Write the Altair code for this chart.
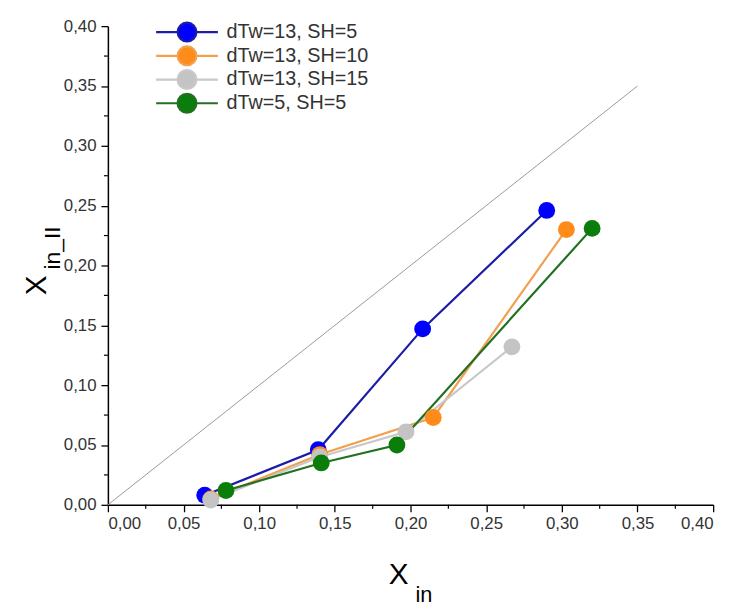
import altair as alt
import pandas as pd

series_names = ["dTw=13, SH=5", "dTw=13, SH=10", "dTw=13, SH=15", "dTw=5, SH=5"]
marker_colors = ["#0000ff", "#ff8c1a", "#c4c4c4", "#0a7d0a"]
line_colors = ["#1c1ca6", "#f2a050", "#c8c8c8", "#237023"]

x_blue = [0.064, 0.139, 0.208, 0.290]
y_blue = [0.008, 0.046, 0.147, 0.246]
x_orange = [0.068, 0.140, 0.215, 0.303]
y_orange = [0.005, 0.042, 0.073, 0.230]
x_gray = [0.068, 0.140, 0.197, 0.267]
y_gray = [0.004, 0.040, 0.061, 0.132]
x_green = [0.078, 0.141, 0.191, 0.320]
y_green = [0.012, 0.035, 0.050, 0.231]

diag_x = [0.0, 0.35]
diag_y = [0.0, 0.35]

major_ticks = [0.0, 0.05, 0.10, 0.15, 0.20, 0.25, 0.30, 0.35, 0.40]
minor_ticks = [0.025, 0.075, 0.125, 0.175, 0.225, 0.275, 0.325, 0.375]

rows = []
for name, xs, ys in zip(series_names,
                        [x_blue, x_orange, x_gray, x_green],
                        [y_blue, y_orange, y_gray, y_green]):
    for i, (xv, yv) in enumerate(zip(xs, ys)):
        rows.append({"series": name, "x": xv, "y": yv, "i": i})
df = pd.DataFrame(rows)
diag = pd.DataFrame({"x": diag_x, "y": diag_y})
minor = pd.DataFrame({"v": minor_ticks})

W, H = 612, 484
xscale = alt.Scale(domain=[0, 0.40], nice=False, zero=False)
yscale = alt.Scale(domain=[0, 0.40], nice=False, zero=False)
label_expr = "replace(format(datum.value, '.2f'), '.', ',')"

def make_axis(pad):
    return alt.Axis(values=major_ticks, labelExpr=label_expr, title=None, grid=False,
                    ticks=True, tickSize=7, tickColor="black", domainColor="black",
                    domainWidth=1.5, tickWidth=1.3, labelFont="Liberation Sans",
                    labelFontSize=17, labelColor="#333333", labelPadding=pad)

legend = alt.Legend(
    title=None, orient="none", legendX=70, legendY=-4,
    symbolType=("M-3.9,0 L-1.1,0 M1.1,0 L3.9,0 "
                "M-1.19,0 A1.19,1.19 0 1,0 1.19,0 A1.19,1.19 0 1,0 -1.19,0 Z"),
    symbolSize=256, symbolStrokeWidth=2.2,
    labelOffset=30, labelFont="Liberation Sans", labelFontSize=20,
    labelColor="#333333", rowPadding=-6, padding=0, symbolOpacity=1,
)

diag_line = alt.Chart(diag).mark_line(color="#9a9a9a", strokeWidth=1).encode(
    x=alt.X("x:Q", scale=xscale, axis=make_axis(4)),
    y=alt.Y("y:Q", scale=yscale, axis=make_axis(5)),
)

lines = alt.Chart(df).mark_line(strokeWidth=2.2).encode(
    x=alt.X("x:Q", scale=xscale),
    y=alt.Y("y:Q", scale=yscale),
    stroke=alt.Stroke("series:N", scale=alt.Scale(domain=series_names, range=line_colors),
                      legend=legend, sort=series_names),
    order="i:Q",
    detail="series:N",
)

points = alt.Chart(df).mark_circle(size=290, opacity=1).encode(
    x=alt.X("x:Q", scale=xscale),
    y=alt.Y("y:Q", scale=yscale),
    fill=alt.Fill("series:N", scale=alt.Scale(domain=series_names, range=marker_colors),
                  legend=legend, sort=series_names),
)

minor_x = alt.Chart(minor).mark_rule(color="black", strokeWidth=1.2, clip=False).encode(
    x=alt.X("v:Q", scale=xscale),
    y=alt.value(H), y2=alt.value(H + 4),
)
minor_y = alt.Chart(minor).mark_rule(color="black", strokeWidth=1.2, clip=False).encode(
    y=alt.Y("v:Q", scale=yscale),
    x=alt.value(0), x2=alt.value(-4),
)

title_df = pd.DataFrame({"t": ["X"]})
x_title_main = alt.Chart(title_df).mark_text(
    font="Liberation Sans", fontSize=30, color="black", align="center", baseline="middle"
).encode(text="t:N", x=alt.value(294), y=alt.value(555))
x_title_sub = alt.Chart(pd.DataFrame({"t": ["in"]})).mark_text(
    font="Liberation Sans", fontSize=22, color="black", align="left", baseline="middle"
).encode(text="t:N", x=alt.value(311), y=alt.value(575))

y_title_main = alt.Chart(title_df).mark_text(
    font="Liberation Sans", fontSize=30, color="black", align="center", baseline="middle",
    angle=270
).encode(text="t:N", x=alt.value(-72), y=alt.value(262))
y_title_sub = alt.Chart(pd.DataFrame({"t": ["in_II"]})).mark_text(
    font="Liberation Sans", fontSize=23, color="black", align="left", baseline="middle",
    angle=270
).encode(text="t:N", x=alt.value(-55), y=alt.value(246))

chart = alt.layer(
    diag_line, minor_x, minor_y, lines, points,
    x_title_main, x_title_sub, y_title_main, y_title_sub
).properties(
    width=W, height=H,
    autosize="none",
    padding={"left": 101, "top": 15, "right": 16, "bottom": 102},
).configure(background="white").configure_view(stroke=None)

chart.save("out.html", embed_options={"renderer": "svg", "actions": False})
